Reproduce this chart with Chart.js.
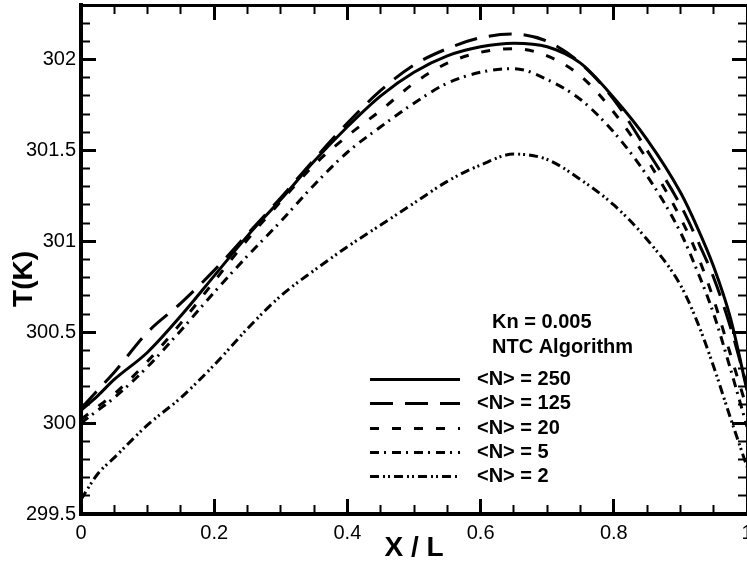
<!DOCTYPE html>
<html><head><meta charset="utf-8">
<script src="https://cdn.jsdelivr.net/npm/chart.js@4.4.1/dist/chart.umd.min.js"></script>
<style>
html,body{margin:0;padding:0;background:#fff;overflow:hidden;}
#wrap{width:747px;height:567px;overflow:hidden;position:relative;}
canvas{display:block;}
</style></head><body>
<div id="wrap"><canvas id="c" width="760" height="567" style="width:760px;height:567px"></canvas></div>
<script>
// ---- data ----
const xValues = [0, 0.025, 0.05, 0.1, 0.15, 0.2, 0.25, 0.3, 0.35, 0.4, 0.45, 0.5, 0.55, 0.6, 0.65, 0.7, 0.75, 0.8, 0.85, 0.9, 0.925, 0.95, 0.975, 1.0];
const seriesNames = ['<N> = 250', '<N> = 125', '<N> = 20', '<N> = 5', '<N> = 2'];
const t250 = [300.07, 300.15, 300.24, 300.39, 300.59, 300.81, 301.03, 301.23, 301.44, 301.63, 301.80, 301.93, 302.02, 302.07, 302.09, 302.07, 301.98, 301.79, 301.56, 301.27, 301.08, 300.86, 300.58, 300.18];
const t125 = [300.08, 300.18, 300.28, 300.50, 300.66, 300.84, 301.04, 301.24, 301.45, 301.65, 301.83, 301.97, 302.06, 302.12, 302.14, 302.10, 301.98, 301.78, 301.50, 301.20, 301.01, 300.80, 300.53, 300.20];
const t20  = [300.02, 300.09, 300.16, 300.34, 300.55, 300.78, 301.01, 301.22, 301.42, 301.58, 301.72, 301.87, 301.98, 302.04, 302.06, 302.02, 301.91, 301.71, 301.45, 301.13, 300.93, 300.68, 300.38, 300.08];
const t5   = [300.00, 300.07, 300.14, 300.31, 300.51, 300.72, 300.92, 301.11, 301.31, 301.49, 301.63, 301.76, 301.87, 301.93, 301.95, 301.89, 301.78, 301.60, 301.36, 301.05, 300.84, 300.60, 300.30, 299.98];
const t2   = [299.58, 299.72, 299.81, 299.99, 300.14, 300.32, 300.52, 300.70, 300.84, 300.97, 301.09, 301.21, 301.33, 301.42, 301.48, 301.45, 301.34, 301.20, 301.01, 300.76, 300.56, 300.31, 300.03, 299.76];
const xTickValues = [0, 0.2, 0.4, 0.6, 0.8, 1];
const xTickLabels = ['0', '0.2', '0.4', '0.6', '0.8', '1'];
const xMinorStep = 0.05;
const yTickValues = [299.5, 300, 300.5, 301, 301.5, 302];
const yTickLabels = ['299.5', '300', '300.5', '301', '301.5', '302'];
const yMinorStep = 0.1;
const xRange = [0, 1];
const yRange = [299.5, 302.3];
const annotationLines = ['Kn = 0.005', 'NTC Algorithm'];
const xTitle = 'X / L';
const yTitle = 'T(K)     ';

// ---- styles ----
const FONT = "'Liberation Sans', Arial, Helvetica, sans-serif";
const lineStyles = [
  {dash: [], w: 3},
  {dash: [23, 12], w: 3},
  {dash: [9, 13], w: 3},
  {dash: [9, 5, 2, 6], w: 3},
  {dash: [9, 4, 2, 3, 2, 4], w: 3}
];
const seriesValues = [t250, t125, t20, t5, t2];

const datasets = seriesValues.map((vals, i) => ({
  label: seriesNames[i],
  data: xValues.map((x, j) => ({x: x, y: vals[j]})),
  borderColor: '#000',
  backgroundColor: '#000',
  borderWidth: lineStyles[i].w,
  borderDash: lineStyles[i].dash,
  borderCapStyle: 'butt',
  pointRadius: 0,
  fill: false,
  cubicInterpolationMode: 'monotone'
}));

function stepTicks(lo, hi, step) {
  const n = Math.round((hi - lo) / step);
  const out = [];
  for (let k = 0; k <= n; k++) out.push({value: lo + k * step});
  return out;
}

// decoration scales: inward tick marks on all four sides (Tecplot style)
function tickScale(position, axis, valuesFn, len, width, border, weight) {
  const range = axis === 'x' ? xRange : yRange;
  return {
    type: 'linear', min: range[0], max: range[1], position: position, weight: weight, z: 1,
    afterBuildTicks: s => { s.ticks = valuesFn(); },
    ticks: {display: false},
    grid: {display: true, drawOnChartArea: false, drawTicks: true, tickLength: -len, tickWidth: width, tickColor: '#000'},
    border: border ? {display: true, width: border, color: '#000'} : {display: false},
    afterFit: s => {
      if (axis === 'x') { s.height = 0; s.paddingLeft = 0; s.paddingRight = 0; }
      else { s.width = 0; s.paddingTop = 0; s.paddingBottom = 0; }
    }
  };
}
const xMajorFn = () => xTickValues.map(v => ({value: v}));
const xMinorFn = () => stepTicks(xRange[0], xRange[1], xMinorStep);
const yMajorFn = () => yTickValues.map(v => ({value: v}));
const yMinorFn = () => stepTicks(yRange[0], yRange[1] - 0.05, yMinorStep);

const legendPlugin = {
  id: 'tecLegend',
  afterDraw(chart) {
    const ctx = chart.ctx;
    ctx.save();
    ctx.fillStyle = '#000';
    ctx.strokeStyle = '#000';
    ctx.font = 'bold 20px ' + FONT;
    ctx.textBaseline = 'middle';
    ctx.textAlign = 'left';
    ctx.fillText(annotationLines[0], 492, 322);
    ctx.fillText(annotationLines[1], 492, 347);
    chart.data.datasets.forEach((ds, i) => {
      const yy = Math.round(379 + i * 24.3) + 0.5;
      ctx.beginPath();
      ctx.setLineDash(ds.borderDash);
      ctx.lineWidth = ds.borderWidth;
      ctx.lineCap = 'butt';
      ctx.moveTo(370, yy); ctx.lineTo(460, yy);
      ctx.stroke();
      ctx.setLineDash([]);
      ctx.fillText(ds.label, 477, yy);
    });
    ctx.restore();
  }
};

new Chart(document.getElementById('c'), {
  type: 'line',
  data: {datasets: datasets},
  plugins: [legendPlugin],
  options: {
    responsive: false,
    animation: false,
    devicePixelRatio: 1,
    layout: {padding: {top: 5, right: 13, left: 0, bottom: 0}},
    plugins: {legend: {display: false}, tooltip: {enabled: false}},
    elements: {line: {tension: 0}},
    scales: {
      x: {
        type: 'linear', min: xRange[0], max: xRange[1], position: 'bottom', weight: 1, z: 1,
        afterBuildTicks: s => { s.ticks = xMajorFn(); },
        ticks: {autoSkip: false, maxRotation: 0, minRotation: 0, padding: 22, color: '#000',
          font: {family: FONT, size: 20},
          callback: (v, i) => xTickLabels[i]},
        grid: {display: true, drawOnChartArea: false, drawTicks: true, tickLength: -15, tickWidth: 3, tickColor: '#000'},
        border: {display: true, width: 4, color: '#000'},
        title: {display: true, text: xTitle, color: '#000',
          font: {family: FONT, size: 28, weight: 'bold'}, padding: {top: 0, bottom: 2}},
        afterFit: s => { s.height = 53; s.paddingLeft = 0; s.paddingRight = 0; }
      },
      xMinor: tickScale('bottom', 'x', xMinorFn, 9, 2, 0, 0),
      xTop: tickScale('top', 'x', xMajorFn, 15, 3, 3, 0),
      xTopMinor: tickScale('top', 'x', xMinorFn, 9, 2, 0, 1),
      y: {
        type: 'linear', min: yRange[0], max: yRange[1], position: 'left', weight: 1, z: 1,
        afterBuildTicks: s => { s.ticks = yMajorFn(); },
        ticks: {autoSkip: false, padding: 20, color: '#000',
          font: {family: FONT, size: 20},
          callback: (v, i) => yTickLabels[i]},
        grid: {display: true, drawOnChartArea: false, drawTicks: true, tickLength: -15, tickWidth: 3, tickColor: '#000'},
        border: {display: true, width: 4, color: '#000'},
        title: {display: true, text: yTitle, color: '#000',
          font: {family: FONT, size: 28, weight: 'bold'}, padding: {top: 7, bottom: 0}},
        afterFit: s => { s.width = 81; s.paddingTop = 0; s.paddingBottom = 0; }
      },
      yMinor: tickScale('left', 'y', yMinorFn, 9, 2, 0, 0),
      yRight: tickScale('right', 'y', yMajorFn, 15, 3, 3, 0),
      yRightMinor: tickScale('right', 'y', yMinorFn, 9, 2, 0, 1)
    }
  }
});
</script>
</body></html>
